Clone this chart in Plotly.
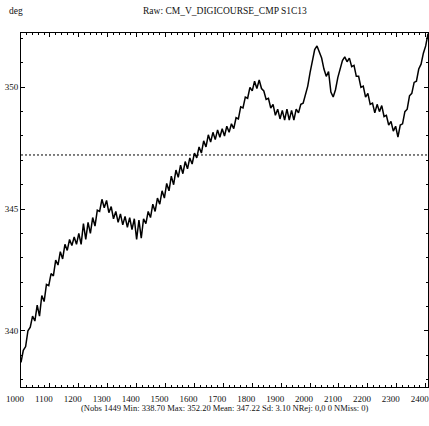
import plotly.graph_objects as go

# ---- data ----
x_start = 1000
x_step = 8
values = [
    338.70, 339.20, 339.35, 340.00, 340.15, 340.60, 340.40, 341.05, 340.60, 341.45,
    341.20, 341.90, 341.85, 342.35, 342.25, 342.90, 342.70, 343.25, 342.95, 343.55,
    343.30, 343.75, 343.50, 343.85, 343.55, 344.00, 343.55, 344.40, 343.75, 344.45,
    344.00, 344.65, 344.30, 344.95, 344.90, 345.40, 345.05, 345.35, 344.85, 345.10,
    344.60, 344.90, 344.45, 344.80, 344.35, 344.70, 344.25, 344.65, 344.15, 344.60,
    343.75, 344.55, 343.80, 344.60, 344.40, 344.90, 344.65, 345.20, 344.90, 345.45,
    345.20, 345.75, 345.45, 346.05, 345.75, 346.35, 346.00, 346.60, 346.30, 346.80,
    346.45, 346.95, 346.65, 347.10, 346.85, 347.30, 347.10, 347.55, 347.30, 347.80,
    347.55, 348.05, 347.75, 348.15, 347.85, 348.25, 347.95, 348.30, 348.00, 348.40,
    348.15, 348.50, 348.30, 348.75, 348.70, 349.20, 349.15, 349.60, 349.55, 350.00,
    349.85, 350.25, 349.95, 350.30, 349.95, 349.85, 349.50, 349.55, 349.15, 349.30,
    348.85, 349.10, 348.70, 349.05, 348.65, 349.10, 348.65, 349.05, 348.65, 349.10,
    348.95, 349.30, 349.35, 349.75, 350.05, 350.60, 351.05, 351.55, 351.70, 351.45,
    351.20, 350.75, 350.45, 350.65, 349.80, 349.60, 349.90, 350.40, 350.70, 351.10,
    351.25, 351.05, 351.20, 350.85, 350.90, 350.45, 350.45, 350.00, 350.05, 349.60,
    349.75, 349.30, 349.35, 348.95, 349.30, 349.00, 349.25, 348.80, 348.85, 348.45,
    348.60, 348.20, 348.40, 347.95, 348.45, 348.50, 349.00, 349.10, 349.65, 349.75,
    350.20, 350.25, 350.75, 350.95, 351.40, 351.70, 352.20,
]
x_values = [x_start + i * x_step for i in range(len(values))]

mean_value = 347.22
x_range = [1000, 2408]
y_range = [337.69, 352.23]
x_tickvals = [1000, 1100, 1200, 1300, 1400, 1500, 1600, 1700, 1800, 1900,
              2000, 2100, 2200, 2300, 2400]
y_tickvals = [340, 345, 350]

title_text = "Raw: CM_V_DIGICOURSE_CMP S1C13"
unit_text = "deg"
footer_text = ("(Nobs 1449 Min: 338.70 Max: 352.20 Mean: 347.22 Sd: 3.10 "
               "NRej: 0,0 0 NMiss: 0)")

FONT = "Liberation Serif, Times New Roman, serif"

fig = go.Figure()
fig.add_trace(go.Scatter(
    x=x_values, y=values, mode="lines",
    line=dict(color="black", width=1.5),
    hoverinfo="skip", showlegend=False,
))
fig.add_trace(go.Scatter(
    x=x_range, y=[mean_value, mean_value], mode="lines",
    line=dict(color="black", width=1, dash="2px,2px"),
    hoverinfo="skip", showlegend=False,
))

axis_common = dict(
    showgrid=False, zeroline=False, showline=True, linecolor="black",
    linewidth=1, mirror="allticks", ticks="inside", ticklen=4,
    tickcolor="black", automargin=False,
    tickfont=dict(family=FONT, size=9, color="#111111"),
)

fig.update_xaxes(
    range=x_range, tickmode="array", tickvals=x_tickvals,
    ticklabelshift=-6, ticklabelstandoff=3, ticklabeloverflow="allow",
    minor=dict(ticks="inside", dtick=20, ticklen=2, tickcolor="black"),
    **axis_common,
)
fig.update_yaxes(
    range=y_range, tickmode="array", tickvals=y_tickvals,
    minor=dict(ticks="inside", dtick=1, ticklen=2, tickcolor="black"),
    **axis_common,
)

fig.update_layout(
    width=429, height=426,
    margin=dict(l=21, r=1, t=33, b=39),
    paper_bgcolor="white", plot_bgcolor="white",
    font=dict(family=FONT, size=9, color="#111111"),
    annotations=[
        dict(text=title_text, xref="paper", yref="paper", x=0.5, y=1,
             yshift=22, xanchor="center", yanchor="middle", showarrow=False,
             font=dict(family=FONT, size=9.5, color="#111111")),
        dict(text=unit_text, xref="paper", yref="paper", x=0, y=1,
             xshift=-5, yshift=22, xanchor="center", yanchor="middle",
             showarrow=False,
             font=dict(family=FONT, size=9.5, color="#111111")),
        dict(text=footer_text, xref="paper", yref="paper", x=0.5, y=0,
             yshift=-21, xanchor="center", yanchor="middle", showarrow=False,
             font=dict(family=FONT, size=8.5, color="#111111")),
    ],
)

fig.write_html(
    "out.html",
    config={"displayModeBar": False},
    post_script="document.body.style.margin='0px';document.body.style.overflow='hidden';",
)
